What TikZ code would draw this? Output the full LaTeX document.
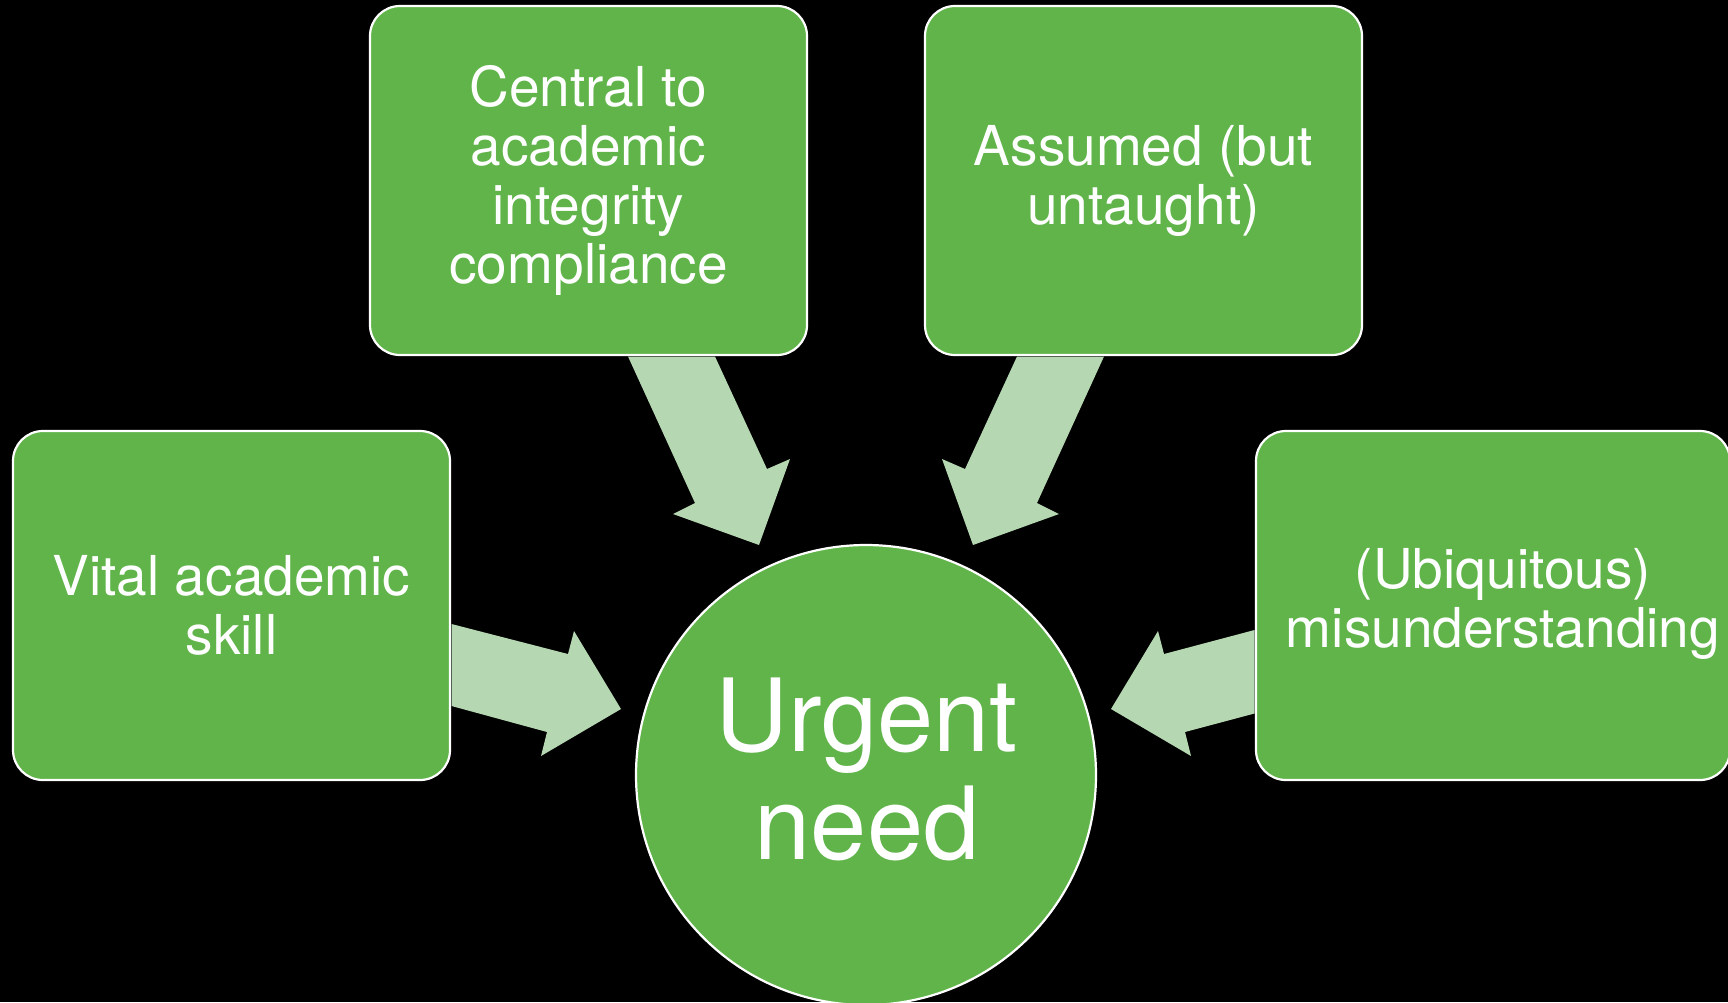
\documentclass[tikz,border=0pt]{standalone}
\usepackage{fontspec}
\setmainfont{TeX Gyre Heros}
\begin{document}
\begin{tikzpicture}[x=1pt,y=-1pt]
\definecolor{boxgreen}{RGB}{96,180,74}
\definecolor{arrowgreen}{RGB}{181,215,177}
\tikzset{
  boxnode/.style={draw=white, line width=2.2pt, fill=boxgreen, rounded corners=30pt,
    inner sep=0pt, text=white, align=center, font=\fontsize{55}{59}\selectfont,
    minimum height=349pt},
  hubnode/.style={circle, draw=white, line width=2.2pt, fill=boxgreen, minimum size=460pt,
    inner sep=0pt},
  hubtext/.style={inner sep=0pt, text=white, align=center, font=\fontsize{101}{108}\selectfont},
  boxtext/.style={inner sep=0pt, text=white, align=center, font=\fontsize{55}{59}\selectfont},
  blockarrow/.style={fill=arrowgreen}
}
\useasboundingbox (0,0) rectangle (1728,1002);
\fill[black] (0,0) rectangle (1728,1002);
\clip (0,0) rectangle (1728,1002);

\node[boxnode, minimum width=437pt] (central) at (588.5,180.5) {Central to\\academic\\integrity\\compliance};
\node[boxnode, minimum width=437pt] (assumed) at (1143.5,180.5) {Assumed (but\\untaught)};
\node[boxnode, minimum width=437pt] (vital) at (231.5,605.5) {Vital academic\\skill};
\node[boxnode, minimum width=474pt] (misu) at (1493,605.5) {};
\node[boxtext] (misutext) at (1503,604) {(Ubiquitous)\\misunderstanding};
\node[hubnode] (urgent) at (866,775) {};
\node[hubtext] (urgenttext) at (867,769.5) {Urgent\\need};

% block arrows from the boxes to the hub
\fill[blockarrow] (628,356.5) -- (715,356.5) -- (767,469) -- (790,459) -- (759,545) -- (673,514) -- (695,503) -- cycle;
\fill[blockarrow] (1104,356.5) -- (1017,356.5) -- (965,469) -- (942,459) -- (973,545) -- (1059,514) -- (1037,503) -- cycle;
\fill[blockarrow] (451.5,624) -- (568,654) -- (574,631) -- (621,709) -- (541,756) -- (547,732) -- (451.5,706) -- cycle;
\fill[blockarrow] (1254.5,630) -- (1164,654) -- (1158,631) -- (1111,709) -- (1191,756) -- (1185,732) -- (1254.5,713.5) -- cycle;
\end{tikzpicture}
\end{document}
